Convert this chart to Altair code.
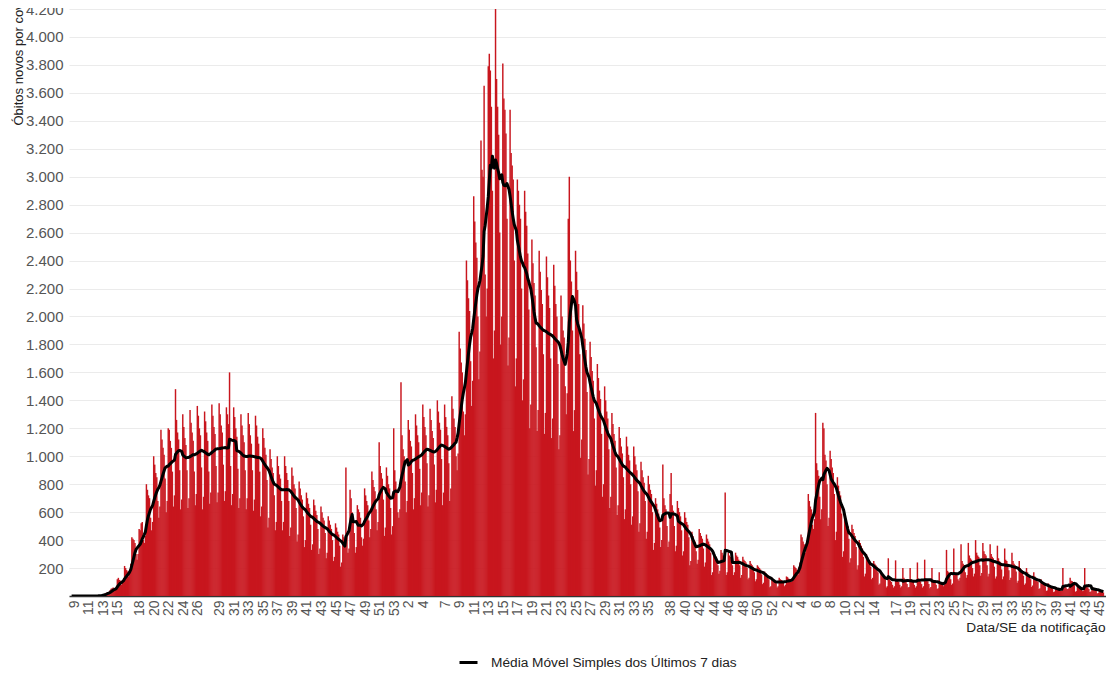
import altair as alt
import pandas as pd

# Daily new deaths (Sun..Sat per epi week)
semanas_2020 = [
    [0, 0, 0, 0, 0, 0, 0],
    [0, 0, 0, 0, 0, 0, 0],
    [0, 0, 0, 0, 0, 0, 0],
    [0, 0, 1, 1, 2, 3, 4],
    [5, 8, 11, 14, 18, 22, 25],
    [28, 30, 42, 52, 55, 60, 48],
    [55, 65, 120, 130, 115, 110, 80],
    [100, 110, 215, 200, 185, 175, 140],
    [190, 230, 420, 410, 400, 380, 300],
    [260, 300, 480, 470, 520, 530, 400],
    [380, 430, 800, 760, 720, 700, 560],
    [470, 530, 1000, 940, 880, 850, 680],
    [560, 640, 1190, 1120, 1060, 1010, 840],
    [600, 680, 1200, 1190, 1110, 1060, 890],
    [640, 720, 1480, 1260, 1170, 1120, 900],
    [620, 690, 1300, 1210, 1130, 1080, 900],
    [630, 700, 1330, 1240, 1170, 1110, 890],
    [650, 730, 1360, 1290, 1200, 1150, 920],
    [620, 710, 1320, 1250, 1170, 1110, 890],
    [660, 740, 1370, 1290, 1210, 1160, 930],
    [670, 740, 1380, 1300, 1220, 1170, 940],
    [680, 750, 1350, 1300, 1230, 1600, 930],
    [650, 730, 1350, 1280, 1200, 1140, 910],
    [630, 700, 1300, 1220, 1150, 1100, 900],
    [620, 700, 1310, 1230, 1150, 1090, 900],
    [610, 690, 1290, 1220, 1140, 1090, 890],
    [570, 640, 1200, 1130, 1060, 1010, 830],
    [490, 560, 1050, 980, 920, 880, 720],
    [470, 530, 1000, 930, 870, 840, 680],
    [470, 530, 1000, 930, 880, 830, 680],
    [430, 490, 920, 860, 800, 770, 630],
    [390, 440, 820, 770, 720, 690, 570],
    [350, 400, 740, 700, 660, 630, 510],
    [330, 370, 690, 650, 610, 580, 480],
    [300, 340, 640, 600, 560, 540, 450],
    [270, 310, 570, 540, 510, 480, 400],
    [250, 280, 520, 490, 460, 440, 360],
    [210, 240, 440, 420, 390, 920, 450],
    [310, 340, 760, 700, 600, 560, 450],
    [310, 350, 650, 620, 600, 560, 420],
    [360, 410, 770, 720, 680, 650, 540],
    [420, 480, 890, 830, 780, 750, 620],
    [470, 530, 1100, 930, 880, 840, 690],
    [430, 490, 920, 860, 800, 770, 630],
    [440, 500, 1200, 900, 820, 760, 600],
]
semanas_2021 = [
    [560, 620, 1530, 1150, 1050, 1000, 820],
    [600, 680, 1260, 1190, 1110, 1070, 880],
    [620, 700, 1300, 1220, 1150, 1100, 910],
    [650, 740, 1370, 1280, 1210, 1150, 950],
    [640, 720, 1340, 1260, 1180, 1130, 940],
    [670, 760, 1400, 1320, 1240, 1190, 980],
    [650, 740, 1370, 1280, 1210, 1150, 950],
    [680, 770, 1430, 1340, 1270, 1210, 1000],
    [900, 1020, 1890, 1770, 1670, 1600, 1320],
    [1150, 1300, 2400, 2260, 2130, 2040, 1680],
    [1360, 1540, 2860, 2680, 2530, 2420, 2000],
    [1550, 1750, 3260, 3050, 3000, 3650, 2300],
    [2000, 2200, 3790, 3880, 3760, 3500, 2900],
    [1700, 1900, 4200, 3700, 3500, 3300, 2600],
    [1800, 2000, 3810, 3560, 3480, 3310, 2700],
    [1650, 1850, 3480, 3170, 3080, 2980, 2400],
    [1500, 1700, 2980, 2900, 2800, 2700, 2200],
    [1400, 1550, 2900, 2750, 2650, 2450, 2050],
    [1200, 1370, 2550, 2380, 2240, 2150, 1780],
    [1180, 1330, 2470, 2320, 2190, 2090, 1730],
    [1160, 1310, 2430, 2280, 2150, 2060, 1700],
    [1130, 1270, 2370, 2220, 2090, 2000, 1660],
    [1050, 1150, 2150, 2000, 1900, 1850, 1500],
    [1300, 1450, 2700, 3000, 2400, 2250, 1900],
    [1180, 1330, 2470, 2320, 2190, 2090, 1730],
    [990, 1120, 2080, 1950, 1840, 1760, 1460],
    [870, 980, 1820, 1710, 1610, 1540, 1270],
    [790, 900, 1660, 1560, 1470, 1410, 1160],
    [710, 800, 1500, 1400, 1320, 1270, 1050],
    [630, 710, 1310, 1230, 1160, 1110, 920],
    [580, 650, 1210, 1130, 1070, 1020, 850],
    [550, 620, 1140, 1070, 1010, 970, 800],
    [510, 570, 1070, 1000, 940, 900, 750],
    [460, 520, 960, 900, 850, 810, 680],
    [410, 460, 860, 800, 760, 730, 600],
    [330, 380, 700, 660, 620, 590, 490],
    [350, 400, 940, 700, 650, 620, 500],
    [350, 390, 730, 880, 650, 610, 500],
    [320, 360, 680, 630, 600, 570, 470],
    [290, 320, 600, 560, 530, 510, 420],
    [220, 250, 460, 430, 400, 390, 320],
    [230, 260, 480, 450, 430, 410, 340],
    [210, 240, 440, 410, 390, 370, 310],
    [150, 170, 310, 290, 280, 260, 220],
    [160, 180, 330, 310, 290, 280, 740],
    [150, 170, 310, 290, 280, 260, 220],
    [150, 170, 310, 290, 280, 260, 220],
    [130, 150, 280, 260, 250, 240, 200],
    [120, 130, 250, 230, 220, 210, 170],
    [105, 120, 220, 210, 200, 190, 155],
    [85, 95, 175, 165, 155, 150, 120],
    [62, 70, 130, 122, 115, 110, 91],
]
semanas_2022 = [
    [60, 70, 130, 120, 115, 110, 95],
    [70, 80, 140, 135, 125, 120, 100],
    [100, 120, 220, 210, 200, 190, 150],
    [210, 240, 440, 420, 390, 370, 310],
    [350, 390, 730, 680, 640, 620, 510],
    [480, 550, 1310, 950, 900, 860, 710],
    [550, 620, 1240, 1200, 1010, 970, 800],
    [500, 560, 1040, 980, 920, 880, 730],
    [400, 460, 850, 790, 750, 720, 590],
    [280, 320, 590, 550, 520, 500, 410],
    [240, 270, 510, 480, 450, 430, 350],
    [190, 220, 400, 380, 360, 340, 280],
    [140, 160, 300, 280, 260, 250, 210],
    [120, 130, 250, 230, 220, 210, 170],
    [80, 90, 170, 160, 150, 140, 120],
    [60, 70, 270, 120, 110, 100, 80],
    [60, 70, 255, 120, 110, 100, 80],
    [60, 70, 200, 130, 120, 110, 85],
    [60, 65, 200, 120, 110, 100, 80],
    [60, 70, 240, 125, 115, 105, 85],
    [60, 70, 260, 125, 115, 105, 85],
    [55, 65, 200, 115, 105, 100, 80],
    [50, 55, 170, 95, 90, 85, 70],
    [80, 95, 330, 180, 170, 150, 120],
    [80, 90, 340, 170, 160, 150, 120],
    [110, 130, 370, 250, 230, 220, 170],
    [130, 150, 380, 290, 270, 260, 200],
    [140, 160, 400, 310, 290, 280, 220],
    [145, 165, 380, 320, 300, 290, 220],
    [140, 160, 370, 300, 280, 270, 210],
    [125, 140, 360, 270, 250, 240, 190],
    [120, 140, 340, 260, 250, 230, 185],
    [115, 130, 310, 250, 230, 220, 175],
    [95, 110, 250, 200, 190, 180, 145],
    [80, 90, 200, 170, 155, 145, 120],
    [65, 75, 170, 140, 130, 125, 100],
    [50, 55, 120, 100, 95, 90, 70],
    [35, 40, 90, 80, 70, 65, 55],
    [28, 32, 60, 60, 55, 50, 40],
    [35, 40, 200, 70, 65, 60, 50],
    [50, 60, 130, 110, 105, 100, 80],
    [30, 35, 70, 65, 60, 55, 45],
    [35, 40, 200, 70, 65, 60, 50],
    [28, 32, 65, 60, 55, 50, 40],
    [18, 22, 45, 40, 35, 35, 25],
]

# Epi-week tick labels shown on the x axis
ticks_2020 = [9, 11, 13, 15, 18, 20, 22, 24, 26, 29, 31, 33, 35, 37, 39, 41, 43, 45, 47, 49, 51, 53]
ticks_2021 = [2, 4, 7, 9, 11, 13, 15, 17, 19, 21, 23, 25, 27, 29, 31, 33, 35, 38, 40, 42, 44, 46, 48, 50, 52]
ticks_2022 = [2, 4, 6, 8, 10, 12, 14, 17, 19, 21, 23, 25, 27, 29, 31, 33, 35, 37, 39, 41, 43, 45]
y_ticks = list(range(200, 4201, 200))

SERIE = "Média Móvel Simples dos Últimos 7 dias"
RED = "#c8161e"

obitos = [v for semana in semanas_2020 + semanas_2021 + semanas_2022 for v in semana]
df = pd.DataFrame({"dia": list(range(len(obitos))), "obitos": obitos})

tick_days = ([(s - 9) * 7 + 3 for s in ticks_2020]
             + [(44 + s) * 7 + 3 for s in ticks_2021]
             + [(96 + s) * 7 + 3 for s in ticks_2022])

xscale = alt.Scale(domain=[-2, 996], nice=False, zero=False)
yscale = alt.Scale(domain=[0, 4200], nice=False, zero=True)

week_expr = ("'' + (datum.value < 315 ? floor(datum.value/7) + 9 : "
             "(datum.value < 679 ? floor(datum.value/7) - 44 : floor(datum.value/7) - 96))")

xaxis = alt.Axis(
    values=tick_days, labelExpr=week_expr, labelAngle=270, labelAlign="right",
    labelBaseline="middle", labelFontSize=14, labelColor="#555555", labelPadding=4,
    ticks=False, grid=False, domain=True, domainColor="#333333", domainWidth=1.5,
    labelOverlap=False, labelBound=False, labelFlush=False,
    title="Data/SE da notificação", titleX=1036, titleY=31, titleAlign="right",
    titleBaseline="middle", titleFontSize=13.7, titleFontWeight="normal", titleColor="#222222",
)
yaxis = alt.Axis(
    values=y_ticks, labelExpr="replace(format(datum.value, ','), ',', '.')",
    labelFontSize=15, labelColor="#555555", labelPadding=6, ticks=False, domain=False,
    grid=True, gridColor="#ebebeb", gridWidth=1, labelOverlap=False, labelFlush=False,
    title="Óbitos novos por covid-19", titleAngle=270, titleAlign="left",
    titleBaseline="alphabetic", titleX=-47, titleY=116, titleFontSize=13,
    titleFontWeight="normal", titleColor="#222222",
)

bars = alt.Chart(df).transform_calculate(
    ini="datum.dia - 0.2", fim="datum.dia + 1.2"
).mark_bar(color=RED, clip=True).encode(
    x=alt.X("ini:Q", scale=xscale, axis=xaxis),
    x2="fim:Q",
    y=alt.Y("obitos:Q", scale=yscale, axis=yaxis),
    y2=alt.datum(0),
)

line = alt.Chart(df).transform_window(
    mm="mean(obitos)", frame=[-6, 0], sort=[alt.SortField("dia")]
).transform_calculate(
    meio="datum.dia + 0.5", serie="'" + SERIE + "'"
).mark_line(strokeWidth=3, clip=True, strokeJoin="round").encode(
    x=alt.X("meio:Q", scale=xscale, axis=xaxis),
    y=alt.Y("mm:Q", scale=yscale, axis=yaxis),
    color=alt.Color(
        "serie:N", scale=alt.Scale(domain=[SERIE], range=["#000000"]),
        legend=alt.Legend(
            title=None, orient="none", legendX=389, legendY=643, direction="horizontal",
            symbolType="stroke", symbolSize=324, symbolStrokeWidth=3, labelLimit=0,
            labelFontSize=13.7, labelColor="#222222", labelOffset=12, padding=0,
        ),
    ),
)

chart = alt.layer(bars, line).properties(
    width=1037, height=587,
    autosize=alt.AutoSizeParams(type="none"),
    padding={"left": 61, "top": 1, "right": 0, "bottom": 76},
).configure(font="Liberation Sans").configure_view(stroke=None)

chart.save("out.html", embed_options={"renderer": "svg", "actions": False})
